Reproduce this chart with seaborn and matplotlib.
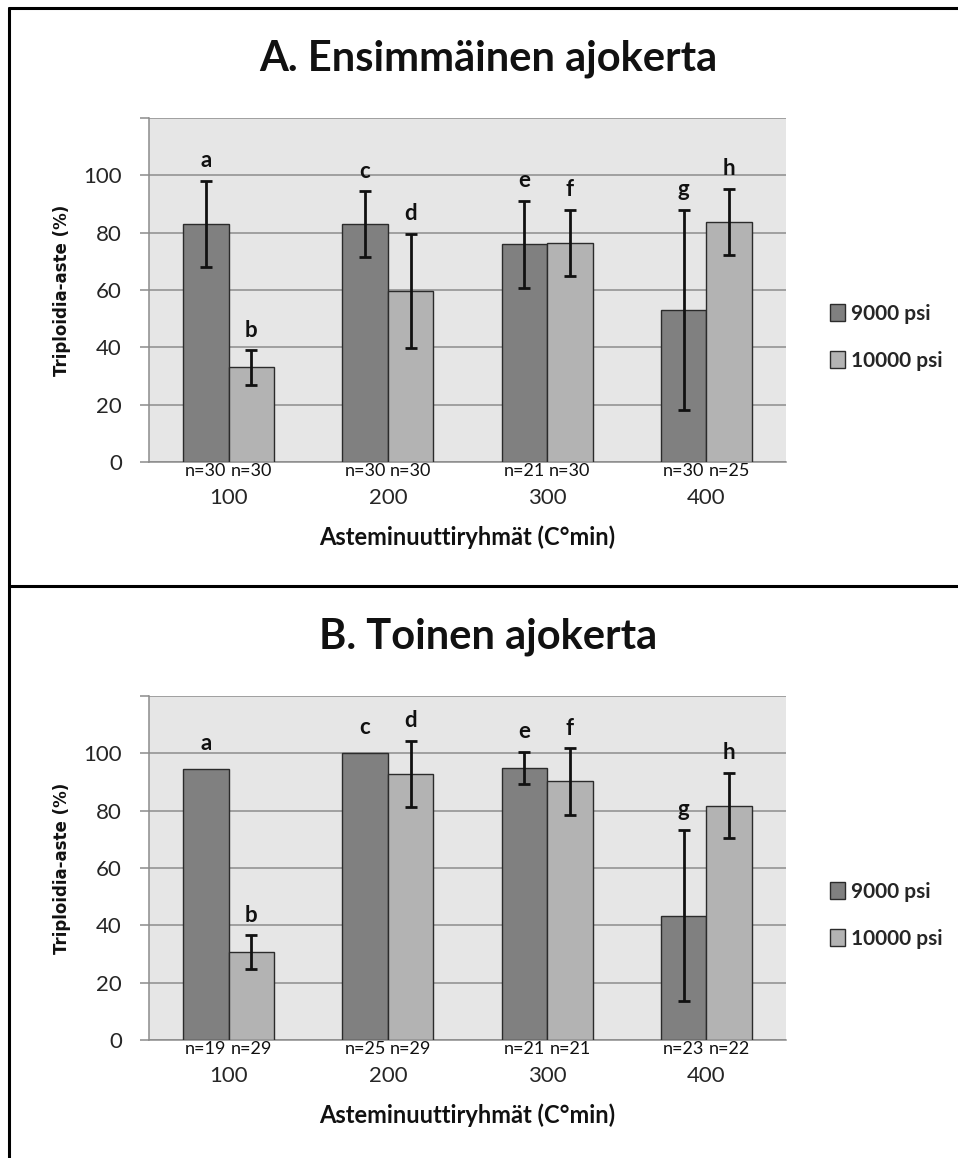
import numpy as np
import pandas as pd
import matplotlib
matplotlib.use("Agg")
import matplotlib.pyplot as plt
from matplotlib.lines import Line2D
import seaborn as sns

# data
groups = ["100", "200", "300", "400"]
pressures = ["9000 psi", "10000 psi"]
letters = {"9000 psi": ["a", "c", "e", "g"], "10000 psi": ["b", "d", "f", "h"]}

a_9000 = [83.0, 83.0, 76.0, 53.0]
a_9000_sd = [15.1, 11.5, 15.2, 35.0]
a_10000 = [33.0, 59.7, 76.4, 83.8]
a_10000_sd = [6.0, 19.9, 11.6, 11.6]
a_n_9000 = [30, 30, 21, 30]
a_n_10000 = [30, 30, 30, 25]

b_9000 = [94.5, 100.0, 95.0, 43.4]
b_9000_sd = [np.nan, np.nan, 5.6, 29.9]
b_10000 = [30.7, 92.8, 90.2, 81.8]
b_10000_sd = [5.8, 11.6, 11.6, 11.4]
b_n_9000 = [19, 25, 21, 23]
b_n_10000 = [29, 29, 21, 22]

panels = [
    ("A. Ensimmäinen ajokerta", a_9000, a_9000_sd, a_10000, a_10000_sd, a_n_9000, a_n_10000),
    ("B. Toinen ajokerta", b_9000, b_9000_sd, b_10000, b_10000_sd, b_n_9000, b_n_10000),
]

palette = {"9000 psi": "#808080", "10000 psi": "#b3b3b3"}

sns.set_style("white")
plt.rcParams["font.family"] = ["Lato", "DejaVu Sans"]

W, H = 958, 1158
fig = plt.figure(figsize=(W / 100, H / 100), dpi=100)

def px_rect(left, top, right, bottom):
    return [left / W, 1 - bottom / H, (right - left) / W, (bottom - top) / H]

for i, (title, v9, s9, v10, s10, n9, n10) in enumerate(panels):
    off = i * 578
    ax = fig.add_axes(px_rect(149, 118 + off, 786, 462 + off))
    df = pd.DataFrame({
        "group": groups * 2,
        "pressure": [pressures[0]] * 4 + [pressures[1]] * 4,
        "value": v9 + v10,
    })
    sns.barplot(data=df, x="group", y="value", hue="pressure", order=groups,
                hue_order=pressures, palette=palette, width=0.572,
                errorbar=None, edgecolor="#2b2b2b", linewidth=1.0, saturation=1,
                ax=ax, zorder=3)

    sds = {"9000 psi": s9, "10000 psi": s10}
    ns = {"9000 psi": n9, "10000 psi": n10}
    for cont, p in zip(ax.containers, pressures):
        xs = np.array([b.get_x() + b.get_width() / 2 for b in cont])
        ys = np.array([b.get_height() for b in cont])
        sd = np.array(sds[p])
        ax.errorbar(xs, ys, yerr=sd, fmt="none", ecolor="#111111",
                    elinewidth=2.0, capsize=4.5, capthick=2.0, zorder=4)
        tops = np.where(np.isnan(sd), ys + 2, ys + sd)
        for x, t, lab in zip(xs, tops, letters[p]):
            ax.text(x, t + 7, lab, ha="center", va="center", fontsize=16,
                    fontweight="bold", color="#111111")
        for x, n in zip(xs, ns[p]):
            ax.annotate(f"n={n}", xy=(x, 0), xycoords=("data", "axes fraction"),
                        xytext=(0, -6.8), textcoords="offset points",
                        ha="center", va="center", fontsize=13, color="#111111")

    ax.set_facecolor("#e6e6e6")
    ax.set_ylim(0, 120)
    ax.set_xlim(-0.5, 3.5)
    ax.set_yticks(range(0, 121, 20))
    ax.set_yticklabels([str(t) if t < 120 else "" for t in range(0, 121, 20)])
    ax.yaxis.grid(True, color="#8c8c8c", linewidth=1.1, zorder=0)
    ax.set_axisbelow(True)
    for s in ["top", "right"]:
        ax.spines[s].set_visible(False)
    ax.spines["left"].set_color("#8c8c8c")
    ax.spines["left"].set_linewidth(1.1)
    ax.spines["bottom"].set_color("#8c8c8c")
    ax.spines["bottom"].set_linewidth(1.1)
    ax.tick_params(axis="y", length=6.5, width=1.1, color="#8c8c8c", pad=13,
                   labelsize=16, labelcolor="#262626", left=True)
    ax.tick_params(axis="x", length=0, pad=19, labelsize=16, labelcolor="#262626")
    ax.set_ylabel("Triploidia-aste (%)", fontsize=12, fontweight="bold",
                  family="DejaVu Sans", labelpad=9, color="#111111")
    ax.set_xlabel("Asteminuuttiryhmät (C°min)", fontsize=17, fontweight="bold",
                  labelpad=12, color="#111111")

    handles = [plt.Rectangle((0, 0), 1, 1, facecolor=palette[p], edgecolor="#2b2b2b",
                             linewidth=1.0) for p in pressures]
    ax.legend(handles, pressures, loc="center left", bbox_to_anchor=(1.04, 0.363),
              frameon=False, handlelength=0.7, handleheight=0.85, handletextpad=0.3,
              labelspacing=1.3, prop={"weight": "bold", "size": 15})

    fig.text(488 / W, 1 - (59 + off) / H, title, ha="center", va="center",
             fontsize=30, fontweight="bold", color="#111111")

# panel frames
lw = 2.2
fig.add_artist(Line2D([9 / W, 9 / W], [0, 1 - 8 / H], color="black", linewidth=lw))
fig.add_artist(Line2D([9 / W, 1], [1 - 8 / H, 1 - 8 / H], color="black", linewidth=lw))
fig.add_artist(Line2D([9 / W, 1], [1 - 586 / H, 1 - 586 / H], color="black", linewidth=lw))

fig.savefig("out.png", dpi=100)
